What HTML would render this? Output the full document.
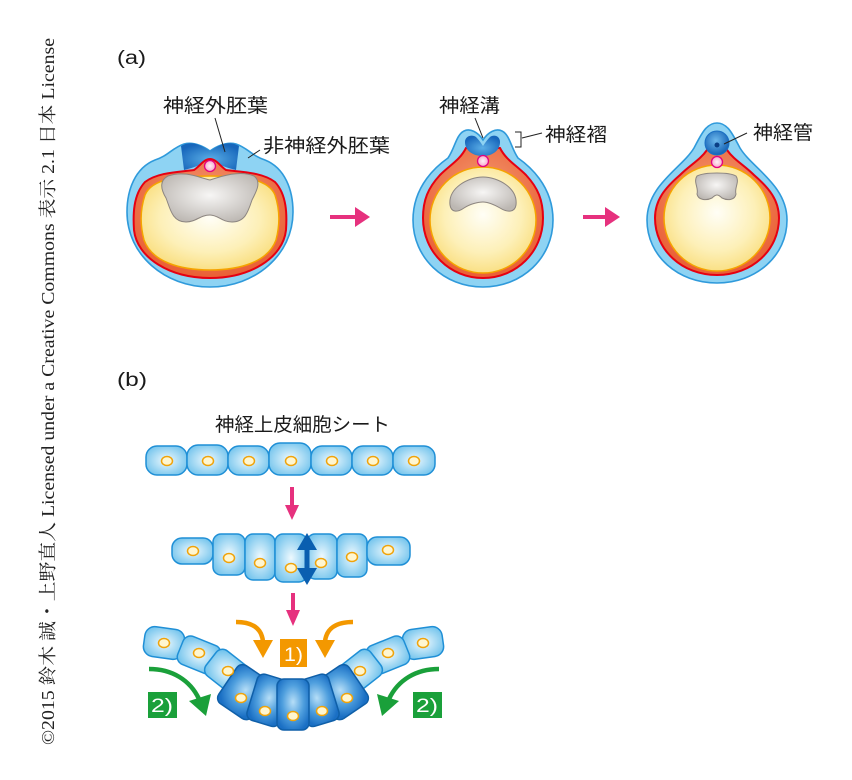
<!DOCTYPE html>
<html><head><meta charset="utf-8"><style>
html,body{margin:0;padding:0;background:#fff;}
svg{display:block;}
.lb{font-family:"Liberation Sans","Noto Sans CJK JP",sans-serif;fill:#1a1a1a;}
.cp{font-family:"Liberation Serif","Noto Serif CJK SC",serif;fill:#222;}
</style></head><body>
<svg width="852" height="780" viewBox="0 0 852 780" xmlns="http://www.w3.org/2000/svg">
<defs>
  <radialGradient id="yolk" cx="0.5" cy="0.45" r="0.6">
    <stop offset="0" stop-color="#fffef6"/><stop offset="0.6" stop-color="#fdf0b8"/><stop offset="1" stop-color="#f9dc78"/>
  </radialGradient>
  <radialGradient id="redg" cx="0.5" cy="0.4" r="0.65">
    <stop offset="0" stop-color="#f4a27a"/><stop offset="1" stop-color="#e9592f"/>
  </radialGradient>
  <radialGradient id="gray" cx="0.5" cy="0.45" r="0.6">
    <stop offset="0" stop-color="#f7f6f5"/><stop offset="1" stop-color="#bcb7b2"/>
  </radialGradient>
  <radialGradient id="plate" cx="0.5" cy="0.6" r="0.6">
    <stop offset="0" stop-color="#5aaee6"/><stop offset="1" stop-color="#1766bb"/>
  </radialGradient>
  <radialGradient id="tube" cx="0.45" cy="0.4" r="0.6">
    <stop offset="0" stop-color="#6cb8ec"/><stop offset="1" stop-color="#1462b5"/>
  </radialGradient>
  <radialGradient id="pink" cx="0.5" cy="0.5" r="0.5">
    <stop offset="0" stop-color="#fff0f6"/><stop offset="1" stop-color="#f6a9cb"/>
  </radialGradient>
  <radialGradient id="cell" cx="0.5" cy="0.5" r="0.6">
    <stop offset="0" stop-color="#eef9fe"/><stop offset="1" stop-color="#6fc2ec"/>
  </radialGradient>
  <radialGradient id="dcell" cx="0.5" cy="0.45" r="0.6">
    <stop offset="0" stop-color="#b6def7"/><stop offset="0.55" stop-color="#4f9fde"/><stop offset="1" stop-color="#1a6fc4"/>
  </radialGradient>
</defs>

<!-- copyright vertical -->
<text class="cp" font-size="18" transform="translate(54,745) rotate(-90)" textLength="707" lengthAdjust="spacingAndGlyphs">©2015 鈴木 誠・上野直人 Licensed under a Creative Commons 表示 2.1 日本 License</text>

<!-- (a) -->
<text class="lb" x="117" y="64" font-size="19" textLength="29" lengthAdjust="spacingAndGlyphs">(a)</text>

<!-- Embryo 1 -->
<path d="M210,151 C200,144 192,142 184,144 C172,148 168,156 155,160 C135,168 127,190 127,212 C127,255 165,287 210,287 C255,287 293,255 293,212 C293,190 285,168 265,160 C252,156 248,148 236,144 C228,142 220,144 210,151 Z" fill="#8ed3f3" stroke="#2f9adb" stroke-width="1.6"/>
<path d="M181,146 C190,141 198,143 210,151 C222,143 230,141 239,146 L236,170 C228,168 222,166 216,163 L210,160 L204,163 C198,166 192,168 184,170 Z" fill="url(#plate)"/>
<path d="M210,159 C216,159 220,166 226,170 C240,172 262,172 275,182 C287,195 287,215 286,230 C283,258 250,278 210,278 C170,278 137,258 134,230 C133,215 133,195 145,182 C158,172 180,172 194,170 C200,166 204,159 210,159 Z" fill="url(#redg)" stroke="#e60012" stroke-width="2"/>
<path d="M210,176 C240,176 268,178 275,195 C280,210 280,225 276,240 C268,262 240,270 210,270 C180,270 152,262 144,240 C140,225 140,210 145,195 C152,178 180,176 210,176 Z" fill="url(#yolk)" stroke="#f5a300" stroke-width="1.5"/>
<path d="M168,176 C185,170 200,178 210,180 C222,176 240,170 254,176 C262,182 256,192 252,200 C248,212 245,222 232,222 C222,222 218,215 210,215 C200,215 196,222 186,222 C172,222 170,208 166,198 C160,188 160,180 168,176 Z" fill="url(#gray)" stroke="#8c8580" stroke-width="1"/>
<circle cx="210" cy="166" r="5.5" fill="url(#pink)" stroke="#e4007f" stroke-width="1.3"/>
<text class="lb" x="163" y="112" font-size="19" textLength="105" lengthAdjust="spacingAndGlyphs">神経外胚葉</text>
<text class="lb" x="263" y="152" font-size="19" textLength="127" lengthAdjust="spacingAndGlyphs">非神経外胚葉</text>
<line x1="215" y1="118" x2="225" y2="152" stroke="#222" stroke-width="1"/>
<line x1="248" y1="158" x2="260" y2="150" stroke="#222" stroke-width="1"/>

<!-- arrow 1 -->
<rect x="330" y="215" width="27" height="4" fill="#e6317e"/>
<polygon points="355,207 370,217 355,227" fill="#e6317e"/>

<!-- Embryo 2 -->
<path d="M483,140 C478,132 470,128 464,131 C456,135 455,148 448,158 C438,165 413,185 413,220 C413,258 444,287 483,287 C522,287 553,258 553,220 C553,185 528,165 518,158 C511,148 510,135 502,131 C496,128 488,132 483,140 Z" fill="#8ed3f3" stroke="#2f9adb" stroke-width="1.6"/>
<path d="M466,148 C460,160 450,165 440,175 C428,188 423,200 423,218 C423,252 450,278 483,278 C516,278 543,252 543,218 C543,200 538,188 526,175 C516,165 506,160 500,148 Z" fill="url(#redg)" stroke="#e60012" stroke-width="2"/>
<circle cx="483" cy="220" r="53" fill="url(#yolk)" stroke="#f5a300" stroke-width="1.5"/>
<path d="M465,142 C465,136 472,134 476,137 C479,140 481,143 483,146 C485,143 487,140 490,137 C494,134 500,136 500,142 C500,150 493,156 483,156 C472,156 465,150 465,142 Z" fill="url(#plate)"/>
<circle cx="483" cy="161" r="5.5" fill="url(#pink)" stroke="#e4007f" stroke-width="1.3"/>
<path d="M450,205 C448,188 468,177 483,177 C498,177 518,188 516,205 C515,212 508,213 500,208 C493,204 488,202 483,202 C478,202 470,204 464,208 C457,213 451,212 450,205 Z" fill="url(#gray)" stroke="#8c8580" stroke-width="1"/>
<text class="lb" x="439" y="112" font-size="19" textLength="61" lengthAdjust="spacingAndGlyphs">神経溝</text>
<text class="lb" x="545" y="141" font-size="19" textLength="62" lengthAdjust="spacingAndGlyphs">神経褶</text>
<line x1="475" y1="118" x2="483" y2="138" stroke="#222" stroke-width="1"/>
<path d="M515,132 H521 V147 H515" fill="none" stroke="#222" stroke-width="1"/>
<line x1="522" y1="138" x2="542" y2="133" stroke="#222" stroke-width="1"/>

<!-- arrow 2 -->
<rect x="583" y="215" width="24" height="4" fill="#e6317e"/>
<polygon points="605,207 620,217 605,227" fill="#e6317e"/>

<!-- Embryo 3 -->
<path d="M717,123 C728,123 733,135 740,148 C752,168 787,185 787,220 C787,256 756,283 717,283 C678,283 647,256 647,220 C647,185 682,168 694,148 C701,135 706,123 717,123 Z" fill="#8ed3f3" stroke="#2f9adb" stroke-width="1.6"/>
<path d="M707,150 C700,160 690,165 680,175 C665,188 655,200 655,218 C655,250 682,275 717,275 C752,275 779,250 779,218 C779,200 769,188 754,175 C744,165 734,160 727,150 Z" fill="url(#redg)" stroke="#e60012" stroke-width="2"/>
<circle cx="717" cy="218" r="53" fill="url(#yolk)" stroke="#f5a300" stroke-width="1.5"/>
<circle cx="717" cy="143" r="12" fill="url(#tube)" stroke="#1a6fc4" stroke-width="1"/>
<circle cx="717" cy="145" r="2.5" fill="#0b3f86"/>
<circle cx="717" cy="162" r="5.5" fill="url(#pink)" stroke="#e4007f" stroke-width="1.3"/>
<path d="M697,176 C705,172 729,172 736,176 C740,182 734,188 736,194 C735,200 728,201 722,198 C718,194 716,194 712,198 C706,201 698,200 697,194 C699,188 693,182 697,176 Z" fill="url(#gray)" stroke="#8c8580" stroke-width="1"/>
<text class="lb" x="753" y="139" font-size="19" textLength="60" lengthAdjust="spacingAndGlyphs">神経管</text>
<line x1="724" y1="144" x2="747" y2="133" stroke="#222" stroke-width="1"/>

<!-- (b) -->
<text class="lb" x="117" y="386" font-size="19" textLength="30" lengthAdjust="spacingAndGlyphs">(b)</text>
<text class="lb" x="215" y="431" font-size="19" textLength="175" lengthAdjust="spacingAndGlyphs">神経上皮細胞シート</text>

<!-- Row 1 -->
<g fill="url(#cell)" stroke="#1f8fd6" stroke-width="1.5">
  <rect x="146" y="446" width="41" height="29" rx="11"/>
  <rect x="187" y="445" width="41" height="30" rx="11"/>
  <rect x="228" y="446" width="41" height="29" rx="11"/>
  <rect x="269" y="443" width="42" height="32" rx="11"/>
  <rect x="311" y="446" width="41" height="29" rx="11"/>
  <rect x="352" y="446" width="41" height="29" rx="11"/>
  <rect x="393" y="446" width="42" height="29" rx="11"/>
</g>
<g fill="#fff6d0" stroke="#f0a30a" stroke-width="1.5">
  <ellipse cx="167" cy="461" rx="5.5" ry="4.5"/>
  <ellipse cx="208" cy="461" rx="5.5" ry="4.5"/>
  <ellipse cx="249" cy="461" rx="5.5" ry="4.5"/>
  <ellipse cx="291" cy="461" rx="5.5" ry="4.5"/>
  <ellipse cx="332" cy="461" rx="5.5" ry="4.5"/>
  <ellipse cx="373" cy="461" rx="5.5" ry="4.5"/>
  <ellipse cx="414" cy="461" rx="5.5" ry="4.5"/>
</g>

<!-- pink down arrow 1 -->
<rect x="290" y="487" width="4" height="20" fill="#e6317e"/>
<polygon points="285,505 299,505 292,520" fill="#e6317e"/>

<!-- Row 2 -->
<g fill="url(#cell)" stroke="#1f8fd6" stroke-width="1.5">
  <rect x="172" y="538" width="41" height="26" rx="10"/>
  <rect x="213" y="534" width="32" height="41" rx="8"/>
  <rect x="245" y="534" width="30" height="46" rx="8"/>
  <rect x="275" y="534" width="32" height="48" rx="8"/>
  <rect x="307" y="534" width="30" height="45" rx="8"/>
  <rect x="337" y="534" width="30" height="43" rx="8"/>
  <rect x="367" y="537" width="43" height="28" rx="10"/>
</g>
<g fill="#fff6d0" stroke="#f0a30a" stroke-width="1.5">
  <ellipse cx="193" cy="551" rx="5.5" ry="4.5"/>
  <ellipse cx="229" cy="558" rx="5.5" ry="4.5"/>
  <ellipse cx="260" cy="563" rx="5.5" ry="4.5"/>
  <ellipse cx="291" cy="568" rx="5.5" ry="4.5"/>
  <ellipse cx="321" cy="563" rx="5.5" ry="4.5"/>
  <ellipse cx="352" cy="557" rx="5.5" ry="4.5"/>
  <ellipse cx="388" cy="550" rx="5.5" ry="4.5"/>
</g>
<!-- double arrow -->
<rect x="304.5" y="546" width="5" height="26" fill="#0a5fb0"/>
<polygon points="307,533 317,550 297,550" fill="#0a5fb0"/>
<polygon points="307,585 317,568 297,568" fill="#0a5fb0"/>

<!-- pink down arrow 2 -->
<rect x="291" y="593" width="4" height="19" fill="#e6317e"/>
<polygon points="286,610 300,610 293,626" fill="#e6317e"/>

<!-- orange arrows -->
<path d="M236,622 C252,622 262,628 263,642" fill="none" stroke="#f39800" stroke-width="4.5"/>
<polygon points="253,640 273,640 263,658" fill="#f39800"/>
<path d="M353,622 C337,622 326,628 325,642" fill="none" stroke="#f39800" stroke-width="4.5"/>
<polygon points="315,640 335,640 325,658" fill="#f39800"/>
<rect x="280" y="639" width="27" height="28" fill="#f39800"/>
<text x="284" y="661" font-family="Liberation Sans, sans-serif" font-size="19" fill="#fff" textLength="19" lengthAdjust="spacingAndGlyphs">1)</text>

<!-- Row 3 wings -->
<g fill="url(#cell)" stroke="#1f8fd6" stroke-width="1.5">
  <rect x="144" y="628" width="40" height="30" rx="10" transform="rotate(8 164 643)"/>
  <rect x="179" y="640" width="40" height="30" rx="8" transform="rotate(22 199 655)"/>
  <rect x="207" y="655" width="40" height="32" rx="8" transform="rotate(38 227 671)"/>
  <rect x="403" y="628" width="40" height="30" rx="10" transform="rotate(-8 423 643)"/>
  <rect x="368" y="640" width="40" height="30" rx="8" transform="rotate(-22 388 655)"/>
  <rect x="340" y="655" width="40" height="32" rx="8" transform="rotate(-38 360 671)"/>
</g>
<!-- dark cells -->
<g fill="url(#dcell)" stroke="#0f5fa8" stroke-width="1.5">
  <rect x="273" y="684" width="40" height="46" rx="7" transform="rotate(34 293 620)"/>
  <rect x="273" y="684" width="40" height="46" rx="7" transform="rotate(-34 293 620)"/>
  <rect x="276" y="680" width="34" height="48" rx="7" transform="rotate(17 293 620)"/>
  <rect x="276" y="680" width="34" height="48" rx="7" transform="rotate(-17 293 620)"/>
  <rect x="277" y="679" width="32" height="51" rx="7"/>
</g>
<g fill="#fff6d0" stroke="#f0a30a" stroke-width="1.5">
  <ellipse cx="164" cy="643" rx="5.5" ry="4.5"/>
  <ellipse cx="199" cy="653" rx="5.5" ry="4.5"/>
  <ellipse cx="228" cy="671" rx="5.5" ry="4.5"/>
  <ellipse cx="241" cy="698" rx="5.5" ry="4.5"/>
  <ellipse cx="265" cy="711" rx="5.5" ry="4.5"/>
  <ellipse cx="293" cy="716" rx="5.5" ry="4.5"/>
  <ellipse cx="322" cy="711" rx="5.5" ry="4.5"/>
  <ellipse cx="347" cy="698" rx="5.5" ry="4.5"/>
  <ellipse cx="360" cy="671" rx="5.5" ry="4.5"/>
  <ellipse cx="388" cy="653" rx="5.5" ry="4.5"/>
  <ellipse cx="423" cy="643" rx="5.5" ry="4.5"/>
</g>

<!-- green arrows -->
<path d="M149,669 C172,669 190,680 199,699" fill="none" stroke="#1aa03a" stroke-width="4.5"/>
<polygon points="189,701 211,694 206,716" fill="#1aa03a"/>
<path d="M439,669 C416,669 398,680 389,699" fill="none" stroke="#1aa03a" stroke-width="4.5"/>
<polygon points="399,701 377,694 382,716" fill="#1aa03a"/>
<rect x="148" y="692" width="29" height="26" fill="#1aa03a"/>
<text x="151" y="712" font-family="Liberation Sans, sans-serif" font-size="19" fill="#fff" textLength="22" lengthAdjust="spacingAndGlyphs">2)</text>
<rect x="413" y="692" width="29" height="26" fill="#1aa03a"/>
<text x="416" y="712" font-family="Liberation Sans, sans-serif" font-size="19" fill="#fff" textLength="22" lengthAdjust="spacingAndGlyphs">2)</text>
</svg>
</body></html>
